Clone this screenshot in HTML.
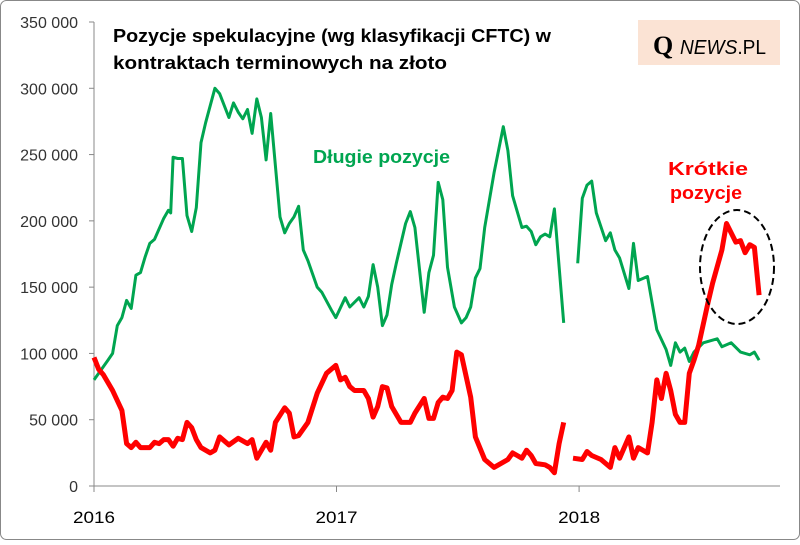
<!DOCTYPE html>
<html><head><meta charset="utf-8"><style>
body{margin:0;background:#fff;}
#wrap{position:relative;width:800px;height:540px;}
svg text{font-family:"Liberation Sans",sans-serif;}
</style></head><body>
<div id="wrap">
<svg id="chart" width="800" height="540">
<rect x="0.5" y="0.5" width="799" height="539" rx="6" fill="#fff" stroke="#888"/>
<g id="axes"></g>
<g id="series"></g>
<text x="113" y="42" font-size="18" font-weight="bold" fill="#000" textLength="438" lengthAdjust="spacingAndGlyphs">Pozycje spekulacyjne (wg klasyfikacji CFTC) w</text>
<text x="113" y="69" font-size="18" font-weight="bold" fill="#000" textLength="334" lengthAdjust="spacingAndGlyphs">kontraktach terminowych na złoto</text>
<rect x="638" y="20" width="142" height="45" fill="#fbe3d4"/>
<text x="653" y="54" font-size="26" font-weight="bold" fill="#000" style="font-family:'Liberation Serif',serif">Q</text>
<text x="680" y="54" font-size="20" fill="#000" textLength="86" lengthAdjust="spacingAndGlyphs"><tspan font-style="italic">NEWS</tspan>.PL</text>
<text x="313" y="163" font-size="18" font-weight="bold" fill="#00a550" textLength="137" lengthAdjust="spacingAndGlyphs">Długie pozycje</text>
<text x="668" y="175" font-size="18" font-weight="bold" fill="#ff0000" textLength="80" lengthAdjust="spacingAndGlyphs">Krótkie</text>
<text x="670" y="199" font-size="18" font-weight="bold" fill="#ff0000" textLength="72" lengthAdjust="spacingAndGlyphs">pozycje</text>
<ellipse cx="737" cy="267" rx="37" ry="57" fill="none" stroke="#000" stroke-width="2" stroke-dasharray="7,4"/>
</svg>
</div>
<script>
const yTicks=[0,50000,100000,150000,200000,250000,300000,350000];
const yTickLabels=["0","50 000","100 000","150 000","200 000","250 000","300 000","350 000"];
const xYears=[0,52.14,104.3];
const xYearLabels=["2016","2017","2018"];
const longWeeks=[0,3,4,5,6,7,8,9,10,11,12,13,15,16,16.5,17,18,19,20,21,22,23,24,26,27,29,30,31,32,33,34,35,36,37,38,40,41,42,43,44,45,46,48,49,51,52,54,55,57,58,59,60,61,62,63,64,65,67,68,69,71,72,73,74,75,76,77.5,79,80,81,82,83,84,86,88,89,90,92,93,94,95,96,97,98,99,101,null,104,105,106,107,108,110,111,112,113,115,116,117,119,121,123,124,125,126,127,128,129,131,134,135,137,139,141,142,143];
const longValues=[80,95,100,121,127,140,134,159,161,173,183,186,202,208,206,248,247,247,204,192,210,259,274,300,296,278,289,282,277,284,266,292,278,246,281,203,191,198,203,211,178,170,150,146,133,127,142,135,142,135,143,167,150,121,129,152,168,198,207,195,131,161,174,229,216,165,135,123,127,135,157,164,195,236,271,253,219,195,196,192,182,188,190,188,209,123,null,168,217,227,230,206,185,191,178,172,149,183,155,158,118,103,91,108,101,104,94,101,108,111,105,108,101,99,101,95];
const shortWeeks=[0,1,2,4,6,7,8,9,10,12,13,14,15,16,17,18,19,20,21,22,23,25,26,27,29,31,33,34,35,37,38,39,41,42,43,44,46,48,50,52,53,54,55,56,58,59,60,61,62,63,64,66,68,69,71,72,73,74,75,76,77,78,79,81,82,84,86,87,89,90,91,92,93,94,95,97,98,99,100,101,null,103,105,106,107,109,111,112,113,115,116,117,119,120,121,122,123,124,125,126,127,128,129,130,132,133,135,136,138,139,140,141,142,143];
const shortValues=[97,88,84,72,57,32,29,33,29,29,33,32,35,35,30,36,35,48,44,35,29,25,27,37,31,36,32,35,21,33,27,48,59,55,37,38,48,70,85,91,80,82,75,72,72,66,52,60,75,74,60,48,48,55,66,51,51,63,67,66,72,101,99,67,37,20,14,16,20,25,23,21,27,23,17,16,14,10,32,48,null,21,20,26,23,20,14,29,21,37,21,29,25,48,80,66,85,72,54,48,48,85,95,106,138,153,178,198,184,185,176,182,180,144];
const NS='http://www.w3.org/2000/svg';
const x0=94,x1=780,yB=486,yT=22,yMax=350000,pxWeek=242.5/52.14;
function xs(w){return x0+w*pxWeek;}
function ys(v){return yB-(v/yMax)*(yB-yT);}
const axes=document.getElementById('axes');
const series=document.getElementById('series');
function mk(tag,attrs,parent){const e=document.createElementNS(NS,tag);for(const k in attrs)e.setAttribute(k,attrs[k]);parent.appendChild(e);return e;}
let yl=mk('line',{x1:x0,y1:yT,x2:x0,y2:yB,stroke:'#888'},axes);


let xl=mk('line',{x1:x0,y1:yB,x2:x1,y2:yB,stroke:'#888'},axes);


yTicks.forEach((v,i)=>{
 const t=mk('line',{x1:x0-5,y1:ys(v),x2:x0,y2:ys(v),stroke:'#888'},axes);
 
 
 const l=mk('text',{x:78,y:ys(v)+6,'font-size':16,'text-anchor':'end',fill:'#333'},axes);
 l.textContent=yTickLabels[i];
 
 
});
xYears.forEach((w,i)=>{
 const t=mk('line',{x1:xs(w),y1:yB,x2:xs(w),y2:yB+6,stroke:'#888'},axes);
 
 
 const l=mk('text',{x:xs(w)-21,y:523,'font-size':17,fill:'#000',textLength:42,lengthAdjust:'spacingAndGlyphs'},axes);
 l.textContent=xYearLabels[i];
 
 
});
function pathFor(ws,vs){let d='',pen=false;for(let i=0;i<ws.length;i++){if(ws[i]===null||vs[i]===null){pen=false;continue;}d+=(pen?'L':'M')+xs(ws[i]).toFixed(1)+','+ys(vs[i]*1000).toFixed(1);pen=true;}return d;}
const pl=mk('path',{d:pathFor(longWeeks,longValues),fill:'none',stroke:'#00a550','stroke-width':3,'stroke-linejoin':'round'},series);


const ps=mk('path',{d:pathFor(shortWeeks,shortValues),fill:'none',stroke:'#ff0000','stroke-width':5,'stroke-linejoin':'round'},series);


</script>
</body></html>
